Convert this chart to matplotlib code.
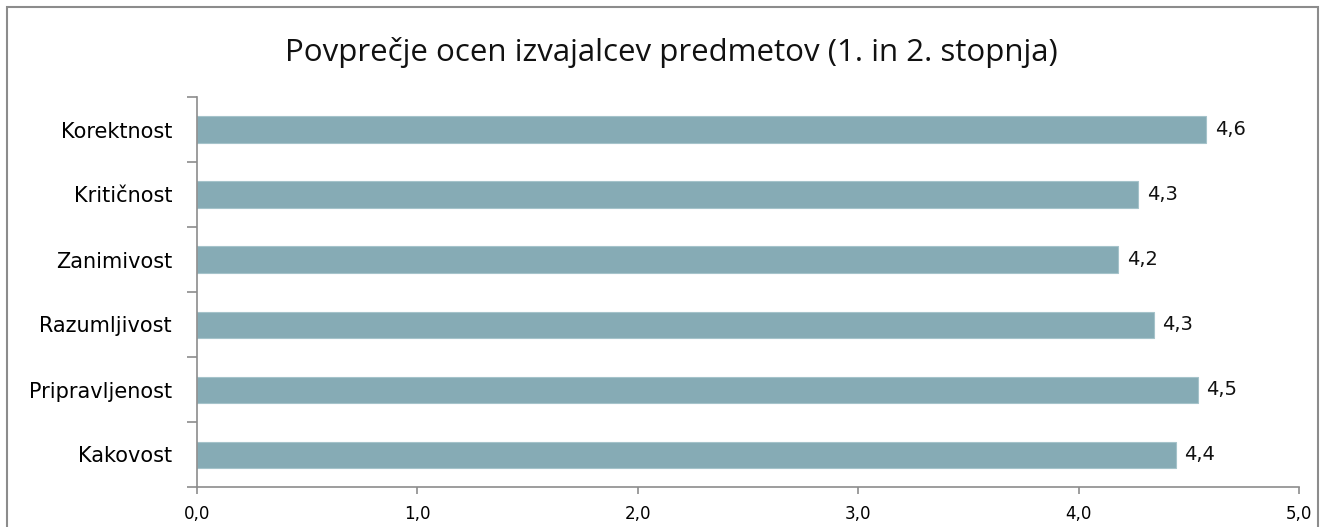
import numpy as np
import matplotlib.pyplot as plt
from matplotlib.patches import Rectangle

# values (top to bottom)
categories = ['Korektnost', 'Kritičnost', 'Zanimivost', 'Razumljivost', 'Pripravljenost', 'Kakovost']
values = [4.58, 4.27, 4.18, 4.34, 4.54, 4.44]
x_ticks = [0, 1, 2, 3, 4, 5]

fig = plt.figure(figsize=(13.25, 5.27), dpi=100)
ax = fig.add_axes([197 / 1325, 1 - 487 / 527, 1102 / 1325, 390 / 527])

# outer frame of the chart area (bottom edge falls outside the image)
fig.patches.append(Rectangle((7 / 1325, -0.05), 1311 / 1325, 1.05 - 7 / 527,
                             transform=fig.transFigure, fill=False,
                             edgecolor='#8c8c8c', linewidth=1.5))

pos = np.arange(len(categories))[::-1]
ax.barh(pos, values, height=0.4, color='#86abb5', edgecolor='#a5c3ca', linewidth=0.8)

for p, v in zip(pos, values):
    ax.text(v + 0.04, p, f'{v:.1f}'.replace('.', ','), va='center', ha='left',
            fontsize=14, family='DejaVu Sans', color='#111111')

ax.set_xlim(0, 5)
ax.set_ylim(-0.5, len(categories) - 0.5)
ax.set_xticks(x_ticks)
ax.set_xticklabels([f'{t:.1f}'.replace('.', ',') for t in x_ticks], fontsize=12)
ax.set_yticks(pos)
ax.set_yticklabels(categories, fontsize=15)
ax.set_yticks(np.arange(-0.5, len(categories), 1), minor=True)
ax.tick_params(axis='y', which='major', length=0, pad=18)
ax.tick_params(axis='y', which='minor', length=7, width=1.2, color='#8c8c8c')
ax.tick_params(axis='x', length=5, width=1.2, color='#8c8c8c', pad=8)

for side in ['top', 'right']:
    ax.spines[side].set_visible(False)
for side in ['left', 'bottom']:
    ax.spines[side].set_color('#8c8c8c')
    ax.spines[side].set_linewidth(1.2)

fig.text(671 / 1325, 1 - 52 / 527, 'Povprečje ocen izvajalcev predmetov (1. in 2. stopnja)',
         ha='center', va='center', fontsize=22.5, family='Open Sans', color='#111111')

fig.savefig('out.png', dpi=100)
